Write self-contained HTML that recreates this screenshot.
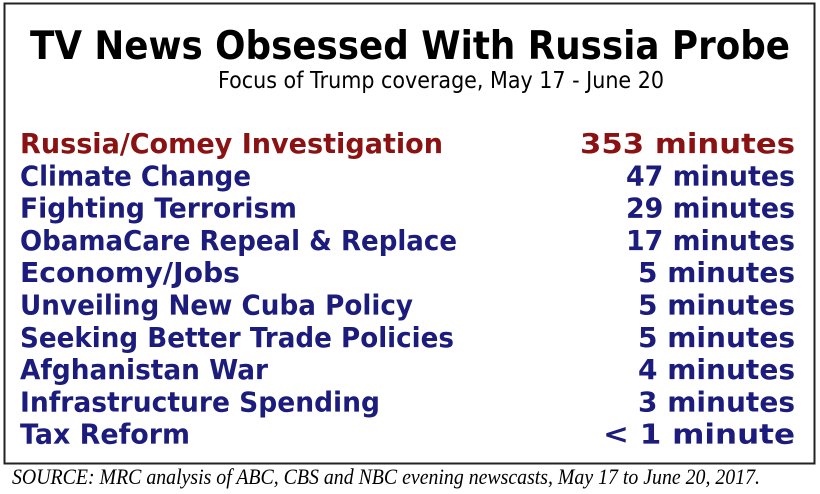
<!DOCTYPE html>
<html><head><meta charset="utf-8"><style>
html,body{margin:0;padding:0;background:#fff;width:820px;height:494px;overflow:hidden}
svg{display:block}
</style></head><body>
<svg width="820" height="494" viewBox="0 0 820 494">
<rect x="4.5" y="3.5" width="810" height="460" fill="#fff" stroke="#222" stroke-width="2"/>
<text x="410" y="59" text-anchor="middle" font-family="DejaVu Sans, sans-serif" font-weight="bold" font-size="39" fill="#000" textLength="760" lengthAdjust="spacingAndGlyphs">TV News Obsessed With Russia Probe</text>
<text x="441" y="88" text-anchor="middle" font-family="DejaVu Sans, sans-serif" font-size="23" fill="#000" textLength="446" lengthAdjust="spacingAndGlyphs">Focus of Trump coverage, May 17 - June 20</text>
<g id="rows"></g>
<text x="12" y="484" font-family="Liberation Serif, serif" font-style="italic" font-size="22" fill="#000" textLength="748" lengthAdjust="spacingAndGlyphs">SOURCE: MRC analysis of ABC, CBS and NBC evening newscasts, May 17 to June 20, 2017.</text>
</svg>
<script>
const topics = ["Russia/Comey Investigation","Climate Change","Fighting Terrorism","ObamaCare Repeal & Replace","Economy/Jobs","Unveiling New Cuba Policy","Seeking Better Trade Policies","Afghanistan War","Infrastructure Spending","Tax Reform"];
const valueLabels = ["353 minutes","47 minutes","29 minutes","17 minutes","5 minutes","5 minutes","5 minutes","4 minutes","3 minutes","< 1 minute"];
const labelWidths = [423,231,277,437,220,393,434,248,360,170];
const valueWidths = [215,169,169,169,157,157,157,157,157,192];
const g = document.getElementById('rows');
const NS = 'http://www.w3.org/2000/svg';
function rowY(i){ return 153 + i * 32.3; }
topics.forEach((t, i) => {
  const color = i === 0 ? '#8a1212' : '#1c1c7c';
  const a = document.createElementNS(NS, 'text');
  a.setAttribute('x', 20); a.setAttribute('y', rowY(i));
  a.setAttribute('font-family', 'DejaVu Sans, sans-serif');
  a.setAttribute('font-weight', 'bold'); a.setAttribute('font-size', '28');
  a.setAttribute('fill', color);
  a.setAttribute('textLength', labelWidths[i]); a.setAttribute('lengthAdjust', 'spacingAndGlyphs');
  a.textContent = t;
  
  
  g.appendChild(a);
  const b = document.createElementNS(NS, 'text');
  b.setAttribute('x', 795); b.setAttribute('y', rowY(i));
  b.setAttribute('text-anchor', 'end');
  b.setAttribute('font-family', 'DejaVu Sans, sans-serif');
  b.setAttribute('font-weight', 'bold'); b.setAttribute('font-size', '28');
  b.setAttribute('fill', color);
  b.setAttribute('textLength', valueWidths[i]); b.setAttribute('lengthAdjust', 'spacingAndGlyphs');
  b.textContent = valueLabels[i];
  
  
  g.appendChild(b);
});
</script>
</body></html>
